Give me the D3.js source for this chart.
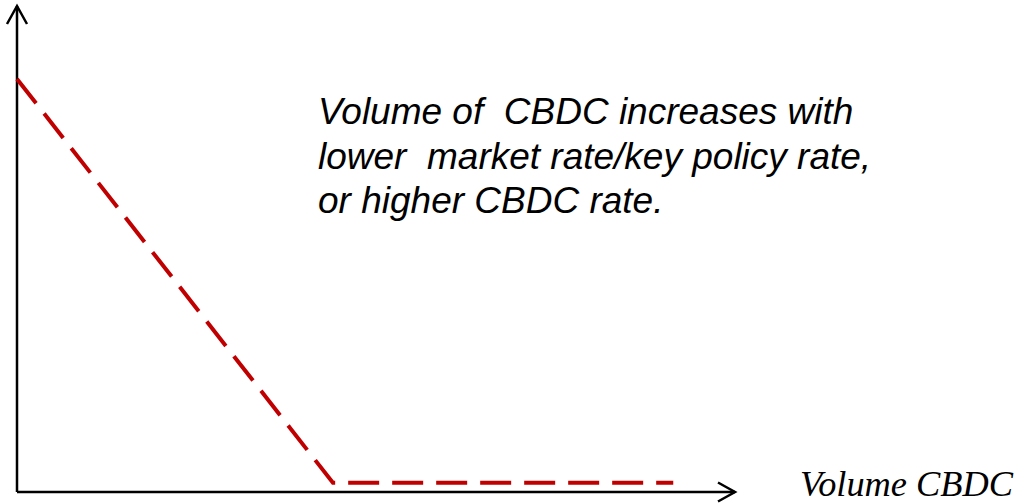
<!DOCTYPE html>
<html>
<head>
<meta charset="utf-8">
<script src="https://cdn.jsdelivr.net/npm/d3@7"></script>
<style>
  html, body { margin: 0; padding: 0; background: #fff; }
  svg { display: block; }
</style>
</head>
<body>
<svg id="chart" width="1019" height="503"></svg>
<script>
// Stylised CBDC volume curve: falls linearly, then flat at the floor.
const curveX = [0, 44, 91.4];
const curveY = [85, 1.9, 1.9];
const xAxisLabel = "Volume CBDC";
const noteLines = [
  "Volume of  CBDC increases with",
  "lower  market rate/key policy rate,",
  "or higher CBDC rate."
];

const svg = d3.select("#chart");
const W = 1019, H = 503;
const margin = { left: 17, right: 284, top: 6, bottom: 11 };

const x = d3.scaleLinear().domain([0, 100]).range([margin.left, W - margin.right]);
const y = d3.scaleLinear().domain([0, 100]).range([H - margin.bottom, margin.top]);

// Axes with open chevron arrowheads
const axisColor = "#000";
const ax = svg.append("g").attr("stroke", axisColor).attr("stroke-width", 2.5).attr("fill", "none");
ax.append("line").attr("x1", x(0)).attr("y1", y(0)).attr("x2", x(100)).attr("y2", y(0));
ax.append("line").attr("x1", x(0)).attr("y1", y(0)).attr("x2", x(0)).attr("y2", y(100));
ax.append("path")
  .attr("d", `M${x(100) - 17},${y(0) - 9.5} L${x(100)},${y(0)} L${x(100) - 17},${y(0) + 9.5}`);
ax.append("path")
  .attr("d", `M${x(0) - 10},${y(100) + 18} L${x(0)},${y(100)} L${x(0) + 10},${y(100) + 18}`);

// Dashed curve
const pts = curveX.map((d, i) => [d, curveY[i]]);
svg.append("path")
  .datum(pts)
  .attr("d", d3.line().x(d => x(d[0])).y(d => y(d[1])))
  .attr("fill", "none")
  .attr("stroke", "#c00000")
  .attr("stroke-width", 4)
  .attr("stroke-dasharray", "31 13");

// Axis label
svg.append("text")
  .attr("x", 800)
  .attr("y", 496)
  .attr("font-family", "'Liberation Serif', 'DejaVu Serif', serif")
  .attr("font-style", "italic")
  .attr("font-size", 36)
  .attr("textLength", 213)
  .attr("lengthAdjust", "spacingAndGlyphs")
  .attr("fill", "#000")
  .text(xAxisLabel);

// Annotation
const note = svg.append("text")
  .attr("font-family", "'Liberation Sans', Arial, sans-serif")
  .attr("font-style", "italic")
  .attr("font-size", 37)
  .attr("fill", "#000")
  .attr("xml:space", "preserve")
  .style("white-space", "pre");
const baselines = [124, 169, 213];
noteLines.forEach((t, i) => {
  note.append("tspan").attr("x", 318).attr("y", baselines[i]).text(t);
});
</script>
</body>
</html>
